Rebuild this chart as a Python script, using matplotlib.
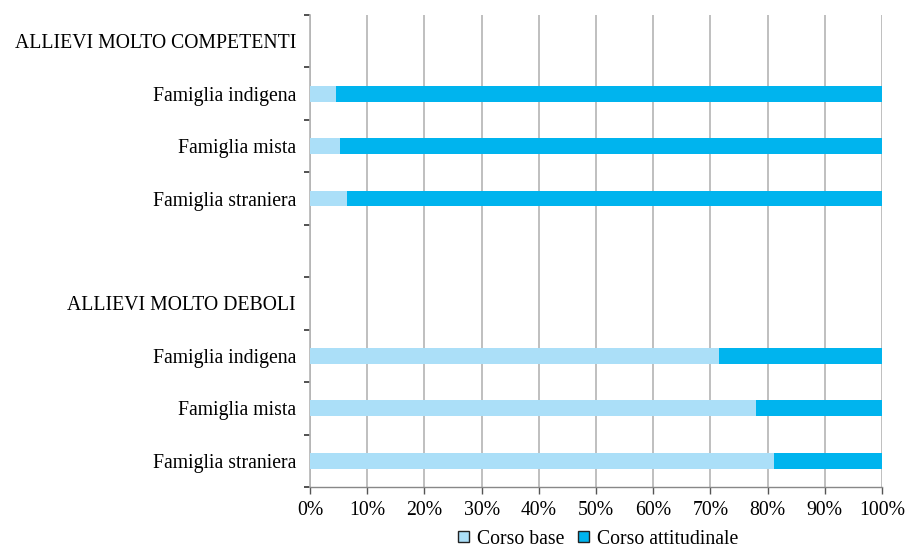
import matplotlib
matplotlib.use("Agg")
import matplotlib.pyplot as plt
import numpy as np
from matplotlib.patches import Patch

categories = ["ALLIEVI MOLTO COMPETENTI", "Famiglia indigena", "Famiglia mista", "Famiglia straniera",
              "", "ALLIEVI MOLTO DEBOLI", "Famiglia indigena", "Famiglia mista", "Famiglia straniera"]
corso_base = [0, 4.6, 5.2, 6.4, 0, 0, 71.5, 78.0, 81.2]
corso_attitudinale = [0, 95.4, 94.8, 93.6, 0, 0, 28.5, 22.0, 18.8]
series_names = ["Corso base", "Corso attitudinale"]
xtick_labels = [f"{v}%" for v in range(0, 101, 10)]

c_base = "#abdff8"
c_att = "#00b4ee"
grid_c = "#b4b4b4"
fs = 14.2

plt.rcParams['font.family'] = ['Liberation Serif', 'DejaVu Serif']

fig = plt.figure(figsize=(9.12, 5.5), dpi=100)
ax = fig.add_axes([310/912, 1-487/550, 572/912, 472/550])

n = len(categories)
y = np.arange(n)
has = [b + a > 0 for b, a in zip(corso_base, corso_attitudinale)]
yb = [yy for yy, h in zip(y, has) if h]
b = [v for v, h in zip(corso_base, has) if h]
a = [v for v, h in zip(corso_attitudinale, has) if h]
ax.barh(yb, b, height=0.3, color=c_base, zorder=3)
ax.barh(yb, a, left=b, height=0.3, color=c_att, zorder=3)

ax.set_ylim(n - 0.5, -0.5)
ax.set_xlim(0, 100)
ax.set_yticks(y)
ax.set_yticklabels(categories, fontsize=fs)
ax.tick_params(axis='y', which='major', length=0, pad=10)
ax.set_yticks(np.arange(-0.5, n, 1.0), minor=True)
ax.tick_params(axis='y', which='minor', length=4, width=1.2, color='#333333', direction='out')

ax.set_xticks(np.arange(0, 101, 10))
ax.set_xticklabels(xtick_labels, fontsize=fs)
ax.tick_params(axis='x', length=5, width=1, color='#555555', pad=5)

ax.xaxis.grid(True, color=grid_c, linewidth=1.2, zorder=0)
ax.set_axisbelow(True)
for s in ['top', 'right']:
    ax.spines[s].set_visible(False)
ax.spines['left'].set_color(grid_c)
ax.spines['left'].set_linewidth(1.2)
ax.spines['bottom'].set_color('#888888')
ax.spines['bottom'].set_linewidth(1.0)

handles = [Patch(facecolor=c_base, edgecolor='#222222', linewidth=1.0),
           Patch(facecolor=c_att, edgecolor='#222222', linewidth=1.0)]
fig.legend(handles, series_names, loc='center', bbox_to_anchor=(598/912, 1-539/550),
           ncol=2, frameon=False, fontsize=fs, handlelength=0.55, handleheight=0.55,
           handletextpad=0.4, columnspacing=0.7, borderpad=0.2)

fig.savefig("out.png", dpi=100)
